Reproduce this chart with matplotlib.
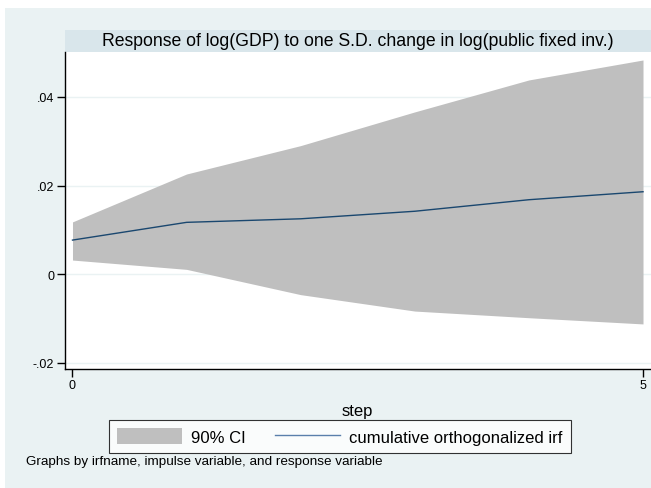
import matplotlib.pyplot as plt
from matplotlib.patches import Rectangle, Patch
from matplotlib.lines import Line2D

plt.rcParams['font.family'] = ['Liberation Sans', 'DejaVu Sans']

# values
steps = [0, 1, 2, 3, 4, 5]
irf = [0.0077, 0.0117, 0.0125, 0.0142, 0.0168, 0.0186]
ci_upper = [0.0118, 0.0226, 0.0290, 0.0366, 0.0438, 0.0483]
ci_lower = [0.0032, 0.0011, -0.0046, -0.0083, -0.0098, -0.0112]
ytick_vals = [-0.02, 0, 0.02, 0.04]
ytick_labels = ['-.02', '0', '.02', '.04']
xtick_vals = [0, 5]

W, H = 651, 489
fig = plt.figure(figsize=(W / 100, H / 100), dpi=100)
fig.patch.set_facecolor('white')

# outer graph region (Stata s2color)
fig.patches.append(Rectangle((5 / W, 0), (W - 5) / W, (H - 9) / H,
                             transform=fig.transFigure, facecolor='#eaf2f3',
                             edgecolor='none', zorder=0))
# title strip
fig.patches.append(Rectangle((64.5 / W, 1 - 53 / H), (W - 64.5) / W, 22 / H,
                             transform=fig.transFigure, facecolor='#d9e6eb',
                             edgecolor='none', zorder=1))
fig.text(358 / W, 1 - 42 / H,
         'Response of log(GDP) to one S.D. change in log(public fixed inv.)',
         ha='center', va='center', fontsize=12.7)

ax = fig.add_axes([64.5 / W, 1 - 370 / H, (W - 64.5) / W, (370 - 53) / H])
ax.set_zorder(2)
ax.set_facecolor('white')
ax.fill_between(steps, ci_lower, ci_upper, color='#bfbfbf', linewidth=0, zorder=2)
ax.plot(steps, irf, color='#1a476f', linewidth=1, zorder=3)

ax.set_xlim(-0.07, 5.07)
ax.set_ylim(-0.02136, 0.0501)
ax.set_yticks(ytick_vals)
ax.set_yticklabels(ytick_labels)
ax.set_xticks(xtick_vals)
ax.grid(axis='y', color='#eaf2f3', linewidth=1, zorder=1)
ax.set_axisbelow(True)

for side in ['top', 'right']:
    ax.spines[side].set_visible(False)
for side in ['left', 'bottom']:
    ax.spines[side].set_linewidth(1)
    ax.spines[side].set_color('black')
ax.tick_params(axis='both', length=6, width=1, labelsize=9, pad=1.5)
ax.set_xlabel('step', fontsize=12, labelpad=8)

handles = [Patch(facecolor='#bfbfbf', edgecolor='none', label='90% CI'),
           Line2D([], [], color='#5a7fab', linewidth=1,
                  label='cumulative orthogonalized irf')]
leg = fig.legend(handles=handles, loc='center', ncol=2,
                 bbox_to_anchor=(340 / W, 1 - 437.5 / H), fontsize=12,
                 frameon=True, fancybox=False, edgecolor='black',
                 handlelength=3.9, handleheight=1.08, columnspacing=1.75,
                 handletextpad=0.55, borderpad=0.5, borderaxespad=0)
leg.get_frame().set_linewidth(0.8)
leg.set_zorder(3)

fig.text(26 / W, 1 - 462 / H,
         'Graphs by irfname, impulse variable, and response variable',
         ha='left', va='center', fontsize=9.7)

fig.savefig('out.png', dpi=100)
